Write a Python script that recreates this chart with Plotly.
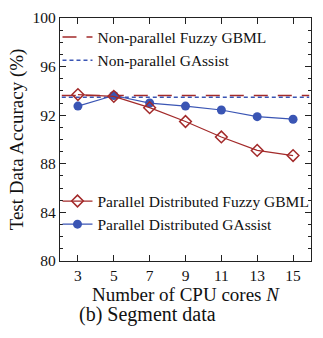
import plotly.graph_objects as go

cores = [3, 5, 7, 9, 11, 13, 15]
fuzzy_parallel = [93.7, 93.55, 92.62, 91.48, 90.21, 89.1, 88.68]
gassist_parallel = [92.75, 93.62, 93.0, 92.75, 92.43, 91.88, 91.67]
fuzzy_nonparallel = 93.63
gassist_nonparallel = 93.47

RED = "#a32a2a"
BLUE = "#3a55b4"
FONT = "Times New Roman, Liberation Serif, serif"

fig = go.Figure()

# Reference lines for the non-parallel runs, spanning the whole x range
fig.add_trace(go.Scatter(
    x=[2.1, 15.9], y=[fuzzy_nonparallel] * 2, mode="lines",
    line=dict(color=RED, width=1.5, dash="14px,10px"),
    name="Non-parallel Fuzzy GBML", legend="legend"))
fig.add_trace(go.Scatter(
    x=[2.1, 15.9], y=[gassist_nonparallel] * 2, mode="lines",
    line=dict(color=BLUE, width=1.5, dash="4px,3px"),
    name="Non-parallel GAssist", legend="legend"))

fig.add_trace(go.Scatter(
    x=cores, y=gassist_parallel, mode="lines+markers",
    line=dict(color=BLUE, width=1.2),
    marker=dict(symbol="circle", size=9, color=BLUE),
    name="Parallel Distributed GAssist", legend="legend2"))
fig.add_trace(go.Scatter(
    x=cores, y=fuzzy_parallel, mode="lines+markers",
    line=dict(color=RED, width=1.2),
    marker=dict(symbol="diamond-open", size=9, color=RED, line=dict(width=1.5)),
    name="Parallel Distributed Fuzzy GBML", legend="legend2"))

axis_common = dict(
    showline=True, linecolor="#222", linewidth=1.2, mirror="ticks",
    ticks="inside", ticklen=6, tickcolor="#222", showgrid=False, zeroline=False,
    tickfont=dict(family=FONT, size=15.5, color="#111"),
)

fig.update_xaxes(
    range=[2, 16], tickvals=cores, ticktext=[str(c) for c in cores],
    title=dict(text="Number of CPU cores <i>N</i>", font=dict(family=FONT, size=19, color="#111"), standoff=1),
    **axis_common)
fig.update_yaxes(
    range=[80, 100], dtick=4, tick0=80,
    minor=dict(dtick=1, ticks="inside", ticklen=3, tickcolor="#222"),
    title=dict(text="Test Data Accuracy (%)", font=dict(family=FONT, size=19, color="#111"), standoff=3),
    **axis_common)

legend_common = dict(
    bgcolor="rgba(0,0,0,0)", font=dict(family=FONT, size=15.5, color="#111"),
    itemwidth=30, xanchor="left", yanchor="top", tracegroupgap=0,
)

fig.update_layout(
    width=323, height=338,
    margin=dict(l=60, r=12, t=9, b=77),
    plot_bgcolor="white", paper_bgcolor="white",
    showlegend=True,
    legend=dict(x=-0.01, y=0.99, traceorder="normal", **legend_common),
    legend2=dict(x=-0.01, y=0.315, traceorder="reversed", **legend_common),
    annotations=[dict(
        text="(b) Segment data", xref="paper", yref="paper", x=0.35, y=-0.165,
        xanchor="center", yanchor="top", showarrow=False,
        font=dict(family=FONT, size=20, color="#111"))],
)

fig.write_html("out.html")
